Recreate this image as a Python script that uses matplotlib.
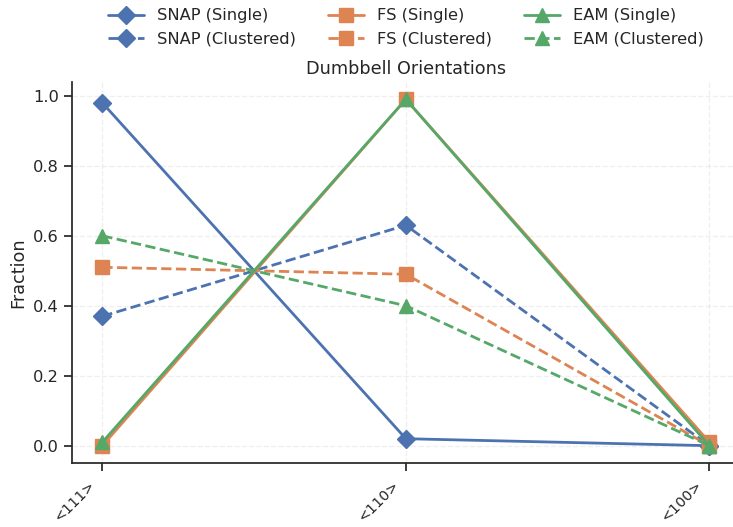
import matplotlib
matplotlib.use("Agg")
import matplotlib.pyplot as plt
import matplotlib.transforms as mtransforms
import seaborn as sns

orientations = ["<111>", "<110>", "<100>"]

snap_single = [0.98, 0.02, 0.0]
snap_clustered = [0.37, 0.63, 0.0]
fs_single = [0.0, 0.99, 0.01]
fs_clustered = [0.51, 0.49, 0.0]
eam_single = [0.01, 0.99, 0.0]
eam_clustered = [0.60, 0.40, 0.0]

sns.set_theme(style="ticks", font_scale=1.06)
pal = sns.color_palette("deep")

fig = plt.figure(figsize=(7.33, 5.27), dpi=100)
ax = fig.add_axes([0.0982, 0.1214, 0.911, 0.723])

x = list(range(len(orientations)))
series = [
    ("SNAP", "D", pal[0], snap_single, snap_clustered),
    ("FS", "s", pal[1], fs_single, fs_clustered),
    ("EAM", "^", pal[2], eam_single, eam_clustered),
]
for name, m, c, single, clustered in series:
    ax.plot(x, single, "-", marker=m, color=c, lw=2, ms=9.5, label=f"{name} (Single)")
    ax.plot(x, clustered, "--", marker=m, color=c, lw=2, ms=9.5, label=f"{name} (Clustered)")

ax.set_xticks(x)
ax.set_xticklabels(orientations, rotation=45, ha="right", fontsize=10.3)
shift = mtransforms.ScaledTranslation(-4 / 100, -2 / 100, fig.dpi_scale_trans)
for lbl in ax.get_xticklabels():
    lbl.set_transform(lbl.get_transform() + shift)
ax.set_ylabel("Fraction")
ax.set_title("Dumbbell Orientations")
ax.grid(True, linestyle="--", alpha=0.3)
sns.despine(ax=ax)
ax.legend(loc="lower center", bbox_to_anchor=(0.5, 1.055), ncol=3, frameon=False,
          handlelength=2.2, columnspacing=2.0)

fig.savefig("out.png", dpi=100)
